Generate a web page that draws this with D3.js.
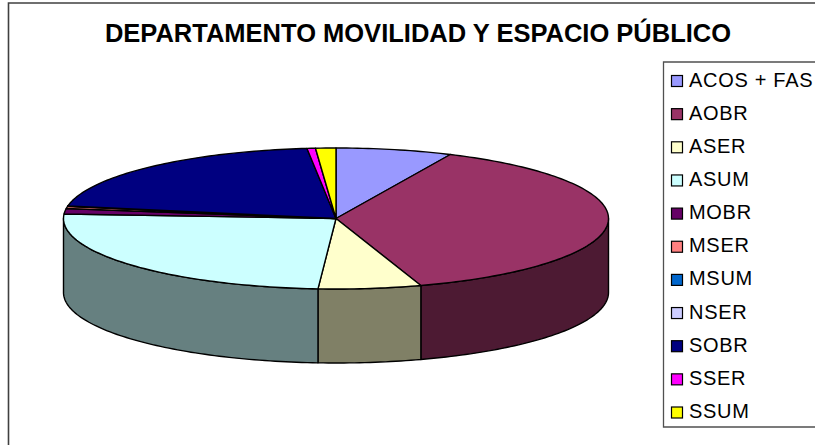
<!DOCTYPE html>
<html><head><meta charset="utf-8">
<script src="https://cdn.jsdelivr.net/npm/d3@7"></script>
<style>html,body{margin:0;padding:0;background:#fff}svg{display:block}text{font-family:"Liberation Sans",Arial,sans-serif;fill:#000}</style>
</head><body><svg id="c" width="815" height="445"></svg>
<script>
const titleText = "DEPARTAMENTO MOVILIDAD Y ESPACIO PÚBLICO";
const categories = ["ACOS + FAS","AOBR","ASER","ASUM","MOBR","MSER","MSUM","NSER","SOBR","SSER","SSUM"];
const shares = [6.9,38.1,6.1,25.0,1.25,0.5,0.02,0.02,20.5,0.5,1.2];
const colors = ["#9999FF","#993366","#FFFFCC","#CCFFFF","#660066","#FF8080","#0066CC","#CCCCFF","#000080","#FF00FF","#FFFF00"];

const svg = d3.select("#c");
const W = 815, H = 445;
const cx = 336, cy = 218.5, rx = 272.5, ry = 70.5, depth = 74;

// frame
svg.append("path").attr("d", `M8.5,${H} V3 H${W}`).attr("fill","none").attr("stroke","#404040").attr("stroke-width",1.6);

svg.append("text").attr("x",418).attr("y",42).attr("text-anchor","middle")
  .attr("font-size",25.5).attr("font-weight","bold").text(titleText);

const pie = d3.pie().value(d=>d).sort(null)(shares);
const pt = (a,dz=0)=>[cx+rx*Math.sin(a), cy-ry*Math.cos(a)+dz];
const line = d3.line();
const darken = c=>{const k=d3.rgb(c);return d3.rgb(k.r/2,k.g/2,k.b/2).formatHex();};
const sampleAngles = (a,b)=>{const n=Math.max(2,Math.ceil((b-a)/0.02));return d3.range(n+1).map(i=>a+(b-a)*i/n);};

// side walls (front half only)
const frontA = Math.PI/2, frontB = Math.PI*1.5;
pie.forEach((d,i)=>{
  const a=Math.max(d.startAngle,frontA), b=Math.min(d.endAngle,frontB);
  if(b<=a) return;
  const as=sampleAngles(a,b);
  const pts=as.map(t=>pt(t)).concat(as.slice().reverse().map(t=>pt(t,depth)));
  svg.append("path").attr("d",line(pts)+"Z").attr("fill",darken(colors[i]))
    .attr("stroke","#000").attr("stroke-width",1.4).attr("stroke-linejoin","round");
});

// top face slices
pie.forEach((d,i)=>{
  const as=sampleAngles(d.startAngle,d.endAngle);
  const pts=[[cx,cy]].concat(as.map(t=>pt(t)));
  svg.append("path").attr("d",line(pts)+"Z").attr("fill",colors[i])
    .attr("stroke","#000").attr("stroke-width",1.4).attr("stroke-linejoin","round");
});

// legend
const lx=663.5, ly=62, lh=365, rowH=33.15;
svg.append("path").attr("d",`M${W},${ly} H${lx} V${ly+lh} H${W}`).attr("fill","#fff")
  .attr("stroke","#505050").attr("stroke-width",1.3);
const rowY=d3.scalePoint().domain(categories).range([81,81+rowH*10]);
const g=svg.selectAll("g.l").data(categories).join("g").attr("class","l");
g.append("rect").attr("x",671.5).attr("y",d=>rowY(d)-5.5).attr("width",11).attr("height",11)
  .attr("fill",(d,i)=>colors[i]).attr("stroke","#000").attr("stroke-width",1.2);
g.append("text").attr("x",689).attr("y",d=>rowY(d)+5.5).attr("font-size",20).attr("letter-spacing",0.7).text(d=>d);
</script></body></html>
